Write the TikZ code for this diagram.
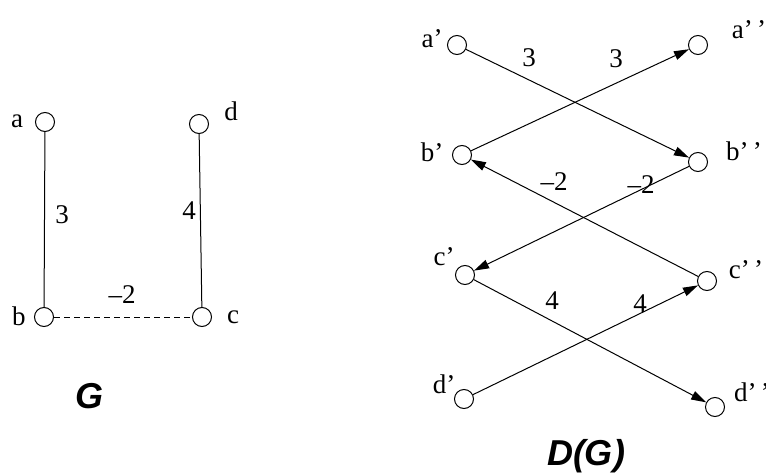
\documentclass[tikz,border=0pt]{standalone}
\usepackage{fontspec}
\setmainfont{Liberation Serif}
\newfontfamily\titlefont{Liberation Sans}
\usetikzlibrary{arrows.meta}
\begin{document}
\begin{tikzpicture}[x=1pt,y=-1pt,
  vtx/.style={circle,draw,line width=1pt,minimum size=19pt,inner sep=0pt},
  lbl/.style={inner sep=0pt,font=\fontsize{27}{27}\selectfont},
  ttl/.style={inner sep=0pt,font=\titlefont\bfseries\itshape\fontsize{36}{36}\selectfont},
  edge/.style={line width=1pt},
  arr/.style={line width=1pt,-{Triangle[length=15pt,width=9pt]}}]
\useasboundingbox (0,0) rectangle (766,476);
% G
\node[vtx] (a) at (45,122) {};
\node[vtx] (d) at (199,124) {};
\node[vtx] (b) at (44,317) {};
\node[vtx] (c) at (202,317) {};
\node[lbl] (la) at (17,121) {a};
\node[lbl] (ld) at (231,111) {d};
\node[lbl] (lb) at (19,316) {b};
\node[lbl] (lc) at (233,317) {c};
\draw[edge] (a) -- (b);
\draw[edge] (d) -- (c);
\draw[edge,dash pattern=on 6pt off 4pt] (b) -- (c);
\node[lbl] (w1) at (62,215) {3};
\node[lbl] (w2) at (189,211) {4};
\node[lbl] (w3) at (122,295) {–2};
\node[ttl] (tG) at (89,396) {G};
% D(G)
\node[vtx] (a1) at (457,45) {};
\node[vtx] (a2) at (698,45) {};
\node[vtx] (b1) at (462,155) {};
\node[vtx] (b2) at (698,162) {};
\node[vtx] (c1) at (465,275) {};
\node[vtx] (c2) at (707,281) {};
\node[vtx] (d1) at (464,399) {};
\node[vtx] (d2) at (715,407) {};
\node[lbl] (la1) at (432,39) {a’};
\node[lbl] (la2) at (749,30) {a’\,’};
\node[lbl] (lb1) at (432,152) {b’};
\node[lbl] (lb2) at (744,151) {b’\,’};
\node[lbl] (lc1) at (444,257) {c’};
\node[lbl] (lc2) at (746,270) {c’\,’};
\node[lbl] (ld1) at (444,384) {d’};
\node[lbl] (ld2) at (752,392) {d’\,’};
\draw[arr] (a1) -- (b2);
\draw[arr] (b1) -- (a2);
\draw[arr] (b2) -- (c1);
\draw[arr] (c2) -- (b1);
\draw[arr] (c1) -- (d2);
\draw[arr] (d1) -- (c2);
\node[lbl] (x1) at (529,58) {3};
\node[lbl] (x2) at (616,59) {3};
\node[lbl] (x3) at (554,182) {–2};
\node[lbl] (x4) at (641,185) {–2};
\node[lbl] (x5) at (552,301) {4};
\node[lbl] (x6) at (640,304) {4};
\node[ttl] (tD) at (586,456) {D(G)};
\end{tikzpicture}
\end{document}
